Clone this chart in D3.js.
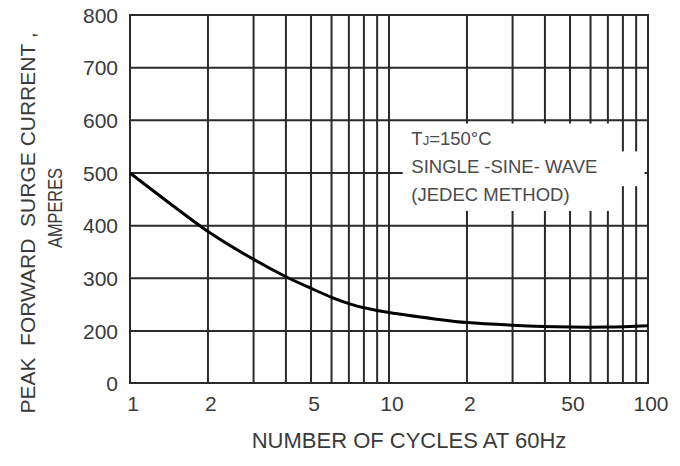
<!DOCTYPE html>
<html>
  <head>
    <meta charset="UTF-8">
    <title>Peak forward surge current vs cycles</title>
    <script src="https://d3js.org/d3.v7.min.js" charset="utf-8"></script>
    <style>
      body { margin: 0; background: #fff; }
      text { white-space: pre; }
    </style>
  </head>
  <body>
    <script>
        var w = 680;
        var h = 466;

        // curve
        var cycles  = [1, 1.5, 2, 3, 4, 5, 6, 7, 8, 10, 15, 20, 30, 50, 70, 100];
        var current = [500, 434, 389, 336, 303, 281, 264, 252, 244, 235, 223, 216, 211, 207.5, 207.5, 210];

        var xGrid = [1, 2, 3, 4, 5, 6, 7, 8, 9, 10, 20, 30, 40, 50, 60, 70, 80, 90, 100];
        var xTicks = [1, 2, 5, 10, 20, 50, 100];
        var xTickLabels = ["1", "2", "5", "10", "2", "50", "100"];
        var yTicks = [0, 200, 300, 400, 500, 600, 700, 800];

        var noteLines = ["=150°C", "SINGLE -SINE- WAVE", "(JEDEC METHOD)"];

        var plotL = 130, plotR = 648, plotT = 15, plotB = 383;

        var x = d3.scaleLog().domain([1, 100]).range([plotL, plotR]);
        // bottom step 0..200 is squeezed into one grid cell, like the original
        var y = d3.scaleLinear().domain([0, 200, 800]).range([plotB, plotB - 52, plotT]);

        var svg = d3.select("body").append("svg")
            .attr("width", w)
            .attr("height", h);

        var font = "Liberation Sans, Arial, sans-serif";
        var ink = "#2a2a2a";

        //grid
        svg.append("g").selectAll("line")
            .data(xGrid)
            .enter().append("line")
            .attr("x1", function(d){ return x(d); })
            .attr("x2", function(d){ return x(d); })
            .attr("y1", plotT)
            .attr("y2", plotB)
            .attr("stroke", ink)
            .attr("stroke-width", 2);

        svg.append("g").selectAll("line")
            .data(yTicks)
            .enter().append("line")
            .attr("x1", plotL)
            .attr("x2", plotR)
            .attr("y1", function(d){ return y(d); })
            .attr("y2", function(d){ return y(d); })
            .attr("stroke", ink)
            .attr("stroke-width", 2);

        //note box knocks out the grid behind the text
        svg.append("rect")
            .attr("x", x(11.3))
            .attr("y", y(594))
            .attr("width", x(72.6) - x(11.3))
            .attr("height", y(428) - y(594))
            .attr("fill", "#fff");
        svg.append("rect")
            .attr("x", x(72.6) - 1)
            .attr("y", y(541))
            .attr("width", x(97) - x(72.6) + 1)
            .attr("height", y(475) - y(541))
            .attr("fill", "#fff");

        //frame
        svg.append("rect")
            .attr("x", plotL)
            .attr("y", plotT)
            .attr("width", plotR - plotL)
            .attr("height", plotB - plotT)
            .attr("fill", "none")
            .attr("stroke", ink)
            .attr("stroke-width", 2);

        //curve
        var line = d3.line()
            .x(function(d){ return x(d[0]); })
            .y(function(d){ return y(d[1]); })
            .curve(d3.curveCatmullRom.alpha(0.5));

        svg.append("path")
            .datum(d3.zip(cycles, current))
            .attr("d", line)
            .attr("fill", "none")
            .attr("stroke", "#000")
            .attr("stroke-width", 3);

        //tick labels
        svg.append("g").selectAll("text")
            .data(yTicks)
            .enter().append("text")
            .text(function(d){ return d; })
            .attr("x", plotL - 12)
            .attr("y", function(d){ return y(d); })
            .attr("dy", "0.36em")
            .attr("text-anchor", "end")
            .attr("font-family", font)
            .attr("font-size", "21px")
            .attr("fill", "#3a3a3a");

        svg.append("g").selectAll("text")
            .data(xTicks)
            .enter().append("text")
            .text(function(d, i){ return xTickLabels[i]; })
            .attr("x", function(d){ return x(d) + 3; })
            .attr("y", 411)
            .attr("text-anchor", "middle")
            .attr("font-family", font)
            .attr("font-size", "21px")
            .attr("fill", "#3a3a3a");

        //axis titles
        svg.append("text")
            .text("NUMBER OF CYCLES AT 60Hz")
            .attr("x", 409)
            .attr("y", 448)
            .attr("text-anchor", "middle")
            .attr("font-family", font)
            .attr("font-size", "22px")
            .attr("fill", "#3a3a3a");

        svg.append("text")
            .text("PEAK  FORWARD  SURGE CURRENT ,")
            .attr("transform", "translate(35,223) rotate(-90)")
            .attr("text-anchor", "middle")
            .attr("font-family", font)
            .attr("font-size", "21px")
            .attr("fill", "#3a3a3a");

        svg.append("text")
            .text("AMPERES")
            .attr("transform", "translate(62,208) rotate(-90) scale(0.78,1)")
            .attr("text-anchor", "middle")
            .attr("font-family", font)
            .attr("font-size", "21px")
            .attr("fill", "#3a3a3a");

        //note
        var note = svg.append("text")
            .attr("font-family", font)
            .attr("font-size", "18.5px")
            .attr("fill", "#4a4a4a");

        note.selectAll("tspan")
            .data(noteLines)
            .enter().append("tspan")
            .attr("x", x(12.2))
            .attr("y", function(d, i){ return 145 + i * 28; })
            .text(function(d){ return d; });

        // T with small J in front of the first line
        var first = note.select("tspan").text(null);
        first.append("tspan").text("T");
        first.append("tspan").attr("font-size", "13px").text("J");
        first.append("tspan").text(noteLines[0]);
    </script>
  </body>
</html>
